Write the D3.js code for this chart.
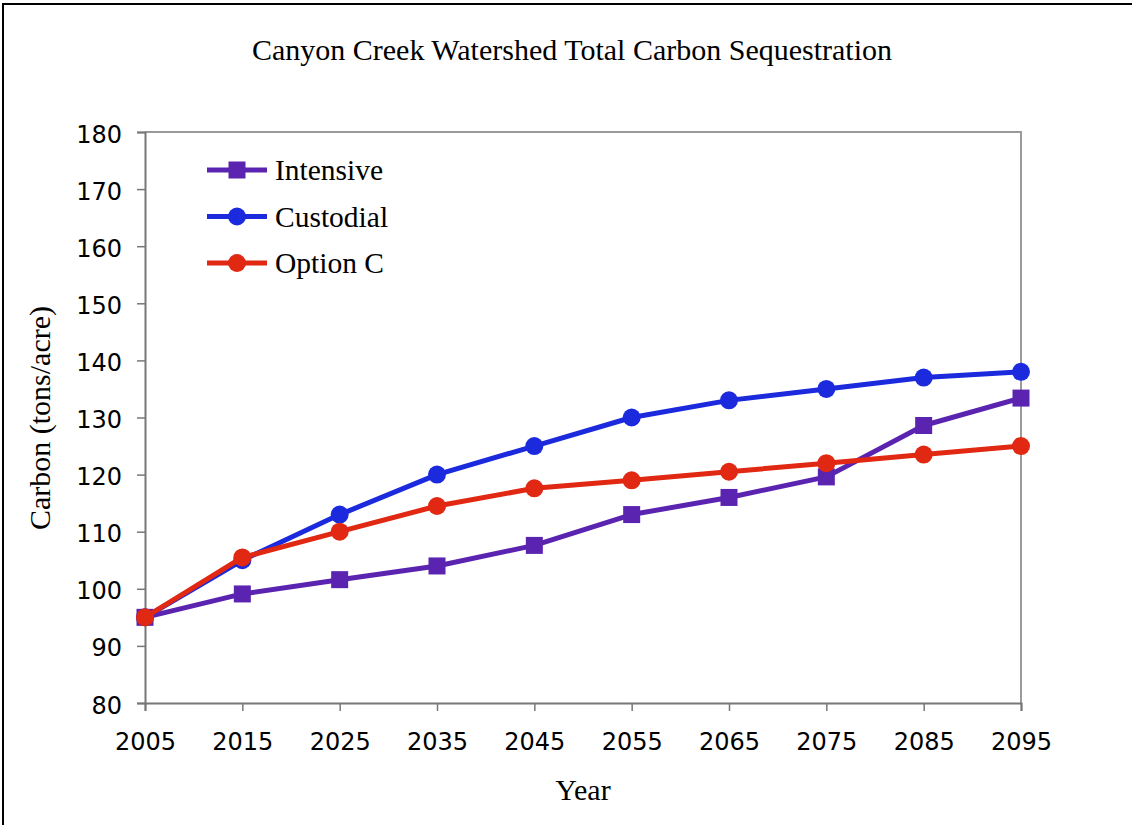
<!DOCTYPE html>
<html>
<head>
<meta charset="utf-8">
<script src="https://cdn.jsdelivr.net/npm/d3@7"></script>
<style>
  body { margin: 0; background: #fff; }
  .tick text { font-family: "DejaVu Sans", Verdana, sans-serif; font-size: 24px; fill: #000; }
  .serif { font-family: "Liberation Serif", "Times New Roman", serif; fill: #000; }
</style>
</head>
<body>
<div id="chart"></div>
<script>
// Chart data
var years = [2005, 2015, 2025, 2035, 2045, 2055, 2065, 2075, 2085, 2095];
var intensive = [95, 99.1, 101.6, 104, 107.6, 113, 116, 119.6, 128.6, 133.4];
var custodial = [95, 105, 113, 120, 125, 130, 133, 135, 137, 138];
var optionC = [95, 105.5, 110, 114.5, 117.6, 119, 120.5, 122, 123.5, 125];
var yTicks = [80, 90, 100, 110, 120, 130, 140, 150, 160, 170, 180];

var series = [
  { name: "Intensive", values: intensive, color: "#5a24b0", shape: "square" },
  { name: "Custodial", values: custodial, color: "#1c2ade", shape: "circle" },
  { name: "Option C", values: optionC, color: "#e02812", shape: "circle" }
];

var svgWidth = 1132;
var svgHeight = 825;

var margin = { top: 132, right: 111, bottom: 122, left: 145 };
var width = svgWidth - margin.left - margin.right;
var height = svgHeight - margin.top - margin.bottom;

var svg = d3.select("#chart")
  .append("svg")
  .attr("width", svgWidth)
  .attr("height", svgHeight);

// outer frame (cut off on right and bottom)
svg.append("rect")
  .attr("x", 3)
  .attr("y", 4)
  .attr("width", svgWidth + 10)
  .attr("height", svgHeight + 10)
  .attr("fill", "none")
  .attr("stroke", "#000")
  .attr("stroke-width", 2);

var chartGroup = svg.append("g")
  .attr("transform", `translate(${margin.left}, ${margin.top})`);

var x = d3.scaleLinear().domain([2005, 2095]).range([0, width]);
var y = d3.scaleLinear().domain([80, 180]).range([height, 0]);

// plot border top + right
chartGroup.append("path")
  .attr("d", `M0,0H${width}V${height}`)
  .attr("fill", "none")
  .attr("stroke", "#9a9a9a")
  .attr("stroke-width", 2);

var bottomAxis = d3.axisBottom(x).tickValues(years).tickFormat(d3.format("d")).tickSize(8).tickPadding(22);
var leftAxis = d3.axisLeft(y).tickValues(yTicks).tickSize(8).tickPadding(15);

var gx = chartGroup.append("g")
  .attr("transform", `translate(0, ${height})`)
  .call(bottomAxis);
var gy = chartGroup.append("g").call(leftAxis);

[gx, gy].forEach(function(g) {
  g.select(".domain").attr("stroke", "#777").attr("stroke-width", 2);
  g.selectAll(".tick line").attr("stroke", "#777").attr("stroke-width", 1.5);
});
gy.selectAll(".tick text").attr("dy", "0.42em");

var line = d3.line()
  .x(function(d, i) { return x(years[i]); })
  .y(function(d) { return y(d); });

series.forEach(function(s) {
  chartGroup.append("path")
    .datum(s.values)
    .attr("d", line)
    .attr("fill", "none")
    .attr("stroke", s.color)
    .attr("stroke-width", 5)
    .attr("stroke-linejoin", "round");

  var pts = chartGroup.selectAll(null).data(s.values).enter();
  if (s.shape === "square") {
    pts.append("rect")
      .attr("x", function(d, i) { return x(years[i]) - 8.5; })
      .attr("y", function(d) { return y(d) - 8.5; })
      .attr("width", 17)
      .attr("height", 17)
      .attr("fill", s.color);
  } else {
    pts.append("circle")
      .attr("cx", function(d, i) { return x(years[i]); })
      .attr("cy", function(d) { return y(d); })
      .attr("r", 9)
      .attr("fill", s.color);
  }
});

// legend
var legend = svg.append("g").attr("transform", "translate(207, 170)");
series.forEach(function(s, i) {
  var g = legend.append("g").attr("transform", `translate(0, ${i * 46.5})`);
  g.append("line")
    .attr("x1", 0).attr("x2", 60)
    .attr("stroke", s.color)
    .attr("stroke-width", 5);
  if (s.shape === "square") {
    g.append("rect").attr("x", 21.5).attr("y", -8.5).attr("width", 17).attr("height", 17).attr("fill", s.color);
  } else {
    g.append("circle").attr("cx", 30).attr("r", 9).attr("fill", s.color);
  }
  g.append("text")
    .attr("class", "serif")
    .attr("x", 68)
    .attr("dy", "0.35em")
    .attr("font-size", 29.5)
    .text(s.name);
});

// title
svg.append("text")
  .attr("class", "serif")
  .attr("x", 572)
  .attr("y", 60)
  .attr("text-anchor", "middle")
  .attr("font-size", 30)
  .text("Canyon Creek Watershed Total Carbon Sequestration");

// axis labels
svg.append("text")
  .attr("class", "serif")
  .attr("x", 583)
  .attr("y", 800)
  .attr("text-anchor", "middle")
  .attr("font-size", 30)
  .text("Year");

svg.append("text")
  .attr("class", "serif")
  .attr("transform", "translate(50, 418) rotate(-90)")
  .attr("text-anchor", "middle")
  .attr("font-size", 30)
  .text("Carbon (tons/acre)");
</script>
</body>
</html>
